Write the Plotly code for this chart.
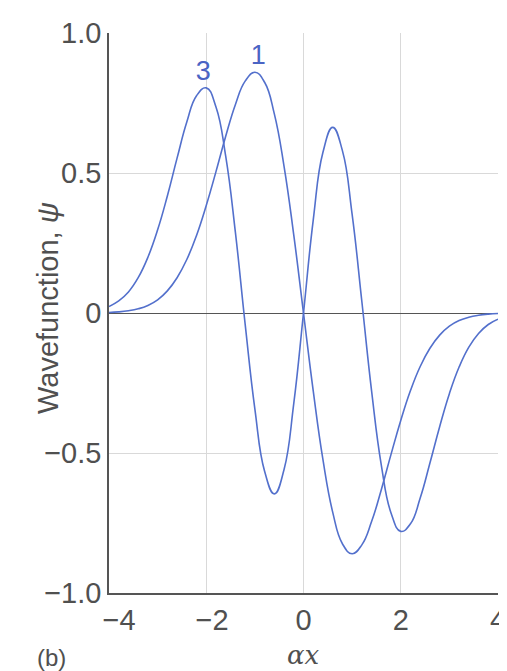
import plotly.graph_objects as go

# Sample positions along alpha*x
x_vals = [-4.0, -3.8, -3.6, -3.4, -3.2, -3.0, -2.8, -2.6, -2.4, -2.2, -2.0,
          -1.8, -1.6, -1.4, -1.2, -1.0, -0.8, -0.6, -0.4, -0.2, 0.0,
          0.2, 0.4, 0.6, 0.8, 1.0, 1.2, 1.4, 1.6, 1.8, 2.0,
          2.2, 2.4, 2.6, 2.8, 3.0, 3.2, 3.4, 3.6, 3.8, 4.0]

# Wavefunction v = 1
psi_1 = [0.002, 0.004, 0.008, 0.015, 0.027, 0.047, 0.079, 0.126, 0.191, 0.277, 0.384,
         0.505, 0.631, 0.745, 0.828, 0.860, 0.824, 0.711, 0.524, 0.278, 0.0,
         -0.278, -0.524, -0.711, -0.824, -0.860, -0.828, -0.745, -0.631, -0.505, -0.384,
         -0.277, -0.191, -0.126, -0.079, -0.047, -0.027, -0.015, -0.008, -0.004, -0.002]

# Wavefunction v = 3
psi_3 = [0.023, 0.043, 0.075, 0.126, 0.199, 0.297, 0.418, 0.553, 0.682, 0.776, 0.804,
         0.736, 0.560, 0.287, -0.040, -0.343, -0.565, -0.646, -0.559, -0.323, 0.0,
         0.332, 0.574, 0.663, 0.580, 0.352, 0.041, -0.278, -0.543, -0.714, -0.780,
         -0.753, -0.661, -0.536, -0.406, -0.288, -0.193, -0.122, -0.073, -0.041, -0.022]

x_ticks = [-4, -2, 0, 2, 4]
x_tick_text = ["\u2002\u2009\u22124", "\u2009\u2009\u22122", "0", "2", "4"]
y_ticks = [-1.0, -0.5, 0.0, 0.5, 1.0]
y_tick_text = ["\u22121.0", "\u22120.5", "0", "0.5", "1.0"]

curve_labels = ["3", "1"]
label_x = [-2.06, -0.93]
label_y = [0.855, 0.915]

line_color = "#5370cc"
text_gray = "#505050"
font_family = "Liberation Sans, Arial, sans-serif"

fig = go.Figure()
fig.add_trace(go.Scatter(x=x_vals, y=psi_1, mode="lines",
                         line=dict(color=line_color, width=1.6, shape="spline", smoothing=1.3),
                         showlegend=False, hoverinfo="skip"))
fig.add_trace(go.Scatter(x=x_vals, y=psi_3, mode="lines",
                         line=dict(color=line_color, width=1.6, shape="spline", smoothing=1.3),
                         showlegend=False, hoverinfo="skip"))

fig.add_trace(go.Scatter(x=label_x, y=label_y, mode="text", text=curve_labels,
                         textfont=dict(family=font_family, size=27, color="#4a64c4"),
                         showlegend=False, hoverinfo="skip"))

annotations = [
    dict(text="Wavefunction, <i>\u03c8</i>", xref="paper", yref="paper", x=0, y=0.5,
         xanchor="center", yanchor="middle", xshift=-61, yshift=5, textangle=-90, showarrow=False,
         font=dict(family=font_family, size=29, color=text_gray)),
    dict(text="<i>\u03b1x</i>", xref="x", yref="paper", x=0, y=0,
         xanchor="center", yanchor="middle", yshift=-62, showarrow=False,
         font=dict(family="DejaVu Serif, serif", size=26, color=text_gray)),
    dict(text="(b)", xref="paper", yref="paper", x=0, y=0,
         xanchor="center", yanchor="middle", xshift=-58, yshift=-64, showarrow=False,
         borderpad=0, font=dict(family=font_family, size=24, color=text_gray)),
]

fig.update_layout(
    width=507, height=671,
    margin=dict(l=101, r=9, t=21, b=86),
    paper_bgcolor="white", plot_bgcolor="white",
    font=dict(family=font_family, color=text_gray),
    annotations=annotations,
    showlegend=False,
)
fig.update_xaxes(range=[-4, 4], tickvals=x_ticks, ticktext=x_tick_text,
                 showgrid=True, gridcolor="#d9d9d9", gridwidth=1,
                 zeroline=False, showline=True, linecolor="#555555", linewidth=1.5,
                 ticks="", tickfont=dict(size=29, color=text_gray, family=font_family))
fig.update_yaxes(range=[-1, 1], tickvals=y_ticks, ticktext=y_tick_text,
                 showgrid=True, gridcolor="#d9d9d9", gridwidth=1,
                 zeroline=True, zerolinecolor="#555555", zerolinewidth=1.2,
                 showline=True, linecolor="#555555", linewidth=1.5,
                 ticks="", tickfont=dict(size=29, color=text_gray, family=font_family))

fig.write_html("out.html")
